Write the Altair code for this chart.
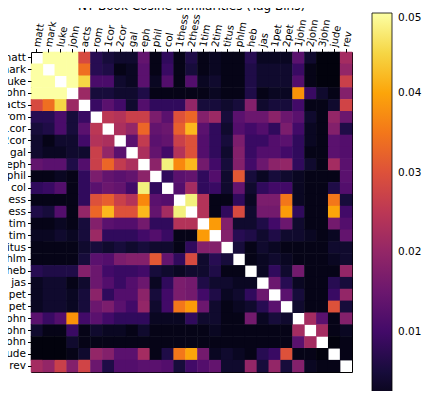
import altair as alt
import pandas as pd

books = ["matt", "mark", "luke", "john", "acts", "rom", "1cor", "2cor", "gal", "eph",
         "phil", "col", "1thess", "2thess", "1tim", "2tim", "titus", "phlm", "heb", "jas",
         "1pet", "2pet", "1john", "2john", "3john", "jude", "rev"]

# upper triangle: row i lists similarity with books i+1 .. end
upper = [
    [.05, .05, .05, .029, .007, .005, .004, .004, .014, .002, .008, .002, .006, .002, .003, .002, .002, .007, .003, .003, .003, .013, .004, .001, .001, .022],
    [.05, .05, .034, .007, .006, .002, .003, .013, .002, .009, .002, .005, .002, .003, .002, .002, .006, .004, .004, .004, .009, .002, .001, .001, .020],
    [.05, .045, .011, .011, .004, .003, .013, .003, .012, .002, .012, .003, .004, .002, .002, .006, .004, .004, .004, .012, .002, .001, .001, .027],
    [.021, .005, .005, .004, .004, .006, .002, .002, .002, .002, .002, .003, .002, .002, .006, .002, .003, .003, .038, .009, .004, .002, .018],
    [.009, .013, .010, .004, .012, .008, .008, .008, .020, .005, .005, .004, .005, .018, .004, .005, .005, .010, .002, .002, .004, .028],
    [.025, .024, .027, .027, .017, .013, .030, .033, .018, .021, .005, .013, .015, .015, .019, .015, .013, .004, .002, .020, .015],
    [.023, .020, .033, .014, .015, .032, .042, .013, .008, .004, .012, .010, .012, .008, .017, .010, .003, .002, .018, .006],
    [.013, .026, .013, .014, .027, .030, .012, .008, .005, .017, .009, .009, .012, .013, .008, .003, .002, .013, .012],
    [.023, .014, .010, .024, .030, .012, .008, .004, .018, .009, .012, .012, .010, .008, .002, .002, .013, .012],
    [.019, .048, .037, .042, .016, .010, .005, .018, .010, .015, .019, .020, .008, .004, .002, .022, .013],
    [.008, .013, .014, .008, .012, .004, .031, .005, .003, .005, .004, .003, .002, .002, .002, .013],
    [.012, .022, .008, .009, .004, .014, .004, .008, .010, .010, .003, .002, .002, .006, .012],
    [.048, .024, .002, .002, .008, .003, .017, .017, .035, .003, .002, .002, .035, .005],
    [.024, .002, .008, .029, .004, .016, .016, .039, .008, .002, .002, .040, .010],
    [.039, .018, .004, .004, .006, .010, .015, .004, .002, .002, .016, .012],
    [.018, .007, .006, .004, .006, .004, .004, .003, .002, .003, .014],
    [.005, .002, .004, .003, .002, .002, .002, .002, .004, .004],
    [.002, .003, .004, .003, .002, .002, .002, .003, .004],
    [.003, .008, .004, .016, .002, .002, .002, .020],
    [.015, .007, .003, .002, .002, .007, .005],
    [.013, .005, .002, .002, .009, .020],
    [.004, .002, .002, .030, .005],
    [.022, .013, .002, .018],
    [.022, .002, .003],
    [.001, .002],
    [.002],
]

colorbar_ticks = [0.01, 0.02, 0.03, 0.04, 0.05]

rows = []
for i, vals in enumerate(upper):
    for k, v in enumerate(vals):
        j = i + 1 + k
        rows.append({"row": books[i], "col": books[j], "sim": v})
        rows.append({"row": books[j], "col": books[i], "sim": v})
df = pd.DataFrame(rows)

chart = alt.Chart(df).mark_rect(width=12.4, height=12.4).encode(
    x=alt.X("col:N", sort=books, title=None,
            axis=alt.Axis(orient="top", labelAngle=-80, labelAlign="left",
                          labelBaseline="middle", labelFontSize=10, tickSize=3.5,
                          labelPadding=2, domain=False, tickColor="black",
                          labelColor="black", grid=False)),
    y=alt.Y("row:N", sort=books, title=None,
            axis=alt.Axis(labelFontSize=10.5, tickSize=3.5, labelPadding=2,
                          domain=False, tickColor="black", labelColor="black",
                          grid=False)),
    color=alt.Color("sim:Q",
                    scale=alt.Scale(scheme="inferno", domain=[0, 0.05], clamp=True),
                    legend=alt.Legend(orient="none", legendX=341, legendY=-39,
                                      direction="vertical", gradientLength=399,
                                      gradientThickness=20, values=colorbar_ticks,
                                      title=None, labelFontSize=10.5, labelOffset=6,
                                      gradientStrokeColor="black",
                                      gradientStrokeWidth=0.8, labelColor="black")),
).properties(
    width=321, height=320,
    title=alt.TitleParams("NT Book Cosine Similarities (Tag Bins)", fontSize=12,
                          fontWeight="normal", offset=0, anchor="middle"),
    autosize=alt.AutoSizeParams(type="none"),
    padding={"left": 23, "top": 44, "right": 72, "bottom": 19},
).configure(
    font="DejaVu Sans",
).configure_view(
    stroke="black", strokeWidth=1,
)

chart.save("out.html", embed_options={"renderer": "svg", "actions": False})
